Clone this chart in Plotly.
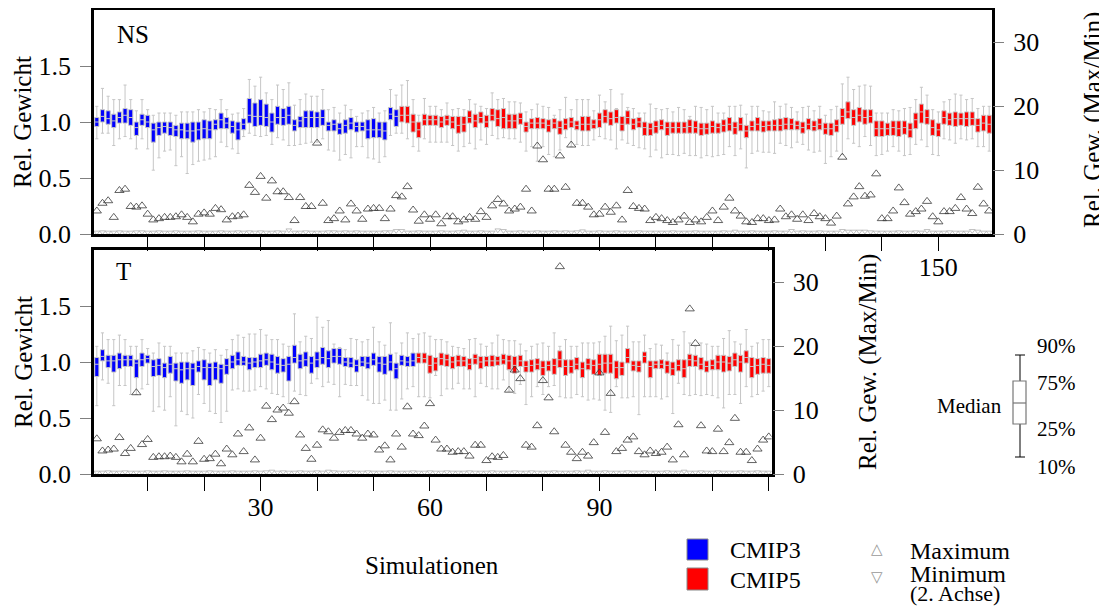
import plotly.graph_objects as go

# the page body adds an 8 px margin; reference pixel coords are shifted by it
OFF = 8
W, H = 1107 - OFF, 606 - OFF


def px(x):
    return (x - OFF) / W


def py(y):
    return 1 - (y - OFF) / H


# ---------------- data: panel NS (159 simulations) ----------------
ns_sim = list(range(1, 160))
ns_n_cmip3 = 54  # first 54 simulations are CMIP3, the rest CMIP5

ns_q3 = [1.04, 1.11, 1.10, 1.07, 1.09, 1.12, 1.11, 1.00, 1.07, 1.06,
         0.99, 1.00, 1.00, 1.00, 0.97, 0.99, 0.99, 1.00, 1.00, 1.02,
         1.01, 1.02, 1.08, 1.04, 1.01, 1.00, 1.03, 1.21, 1.17, 1.20,
         1.16, 1.08, 1.14, 1.12, 1.14, 1.02, 1.05, 1.10, 1.10, 1.09,
         1.11, 1.00, 1.02, 0.99, 1.02, 1.04, 1.00, 1.00, 1.02, 1.03,
         1.00, 1.00, 1.13, 1.11, 1.14, 1.14, 1.07, 1.00, 1.07, 1.06,
         1.06, 1.05, 1.06, 1.05, 1.05, 1.05, 1.10, 1.07, 1.09, 1.06,
         1.12, 1.11, 1.12, 1.07, 1.07, 1.08, 1.00, 1.03, 1.04, 1.03,
         1.02, 1.03, 1.01, 1.03, 1.04, 1.01, 1.05, 1.05, 1.02, 1.08,
         1.11, 1.09, 1.11, 1.05, 1.10, 1.03, 1.04, 1.00, 0.99, 1.01,
         1.02, 1.00, 1.00, 1.00, 1.00, 1.02, 1.01, 0.99, 0.99, 1.01,
         0.99, 1.02, 1.04, 1.00, 1.04, 0.97, 1.01, 1.04, 1.01, 1.01,
         1.02, 1.03, 1.04, 1.03, 1.01, 1.00, 1.03, 1.01, 1.03, 0.99,
         0.99, 1.02, 1.12, 1.18, 1.11, 1.13, 1.11, 1.11, 1.01, 1.01,
         0.99, 1.01, 1.01, 1.01, 0.99, 1.08, 1.16, 1.11, 1.02, 0.99,
         1.10, 1.08, 1.09, 1.08, 1.09, 1.09, 1.03, 1.06, 1.06]

ns_q1 = [0.96, 1.00, 0.98, 0.95, 0.99, 0.99, 0.97, 0.88, 0.97, 0.95,
         0.82, 0.88, 0.90, 0.88, 0.87, 0.85, 0.85, 0.82, 0.84, 0.85,
         0.85, 0.93, 0.94, 0.94, 0.90, 0.84, 0.93, 0.99, 0.96, 0.97,
         0.96, 0.91, 0.98, 0.97, 0.98, 0.92, 0.95, 0.95, 0.95, 0.95,
         0.97, 0.92, 0.92, 0.89, 0.90, 0.93, 0.91, 0.92, 0.85, 0.86,
         0.86, 0.84, 1.02, 0.96, 1.00, 0.99, 0.91, 0.86, 0.97, 0.97,
         0.97, 0.95, 0.97, 0.94, 0.90, 0.91, 0.99, 0.95, 0.99, 0.95,
         1.01, 0.96, 0.94, 0.94, 0.94, 0.98, 0.91, 0.94, 0.94, 0.94,
         0.91, 0.94, 0.89, 0.93, 0.95, 0.93, 0.92, 0.92, 0.94, 0.95,
         0.99, 0.97, 0.99, 0.92, 0.98, 0.93, 0.95, 0.88, 0.88, 0.90,
         0.93, 0.88, 0.90, 0.90, 0.90, 0.90, 0.90, 0.88, 0.89, 0.90,
         0.90, 0.91, 0.92, 0.89, 0.92, 0.86, 0.92, 0.92, 0.91, 0.92,
         0.92, 0.92, 0.93, 0.93, 0.93, 0.90, 0.93, 0.92, 0.93, 0.89,
         0.88, 0.91, 0.98, 1.03, 0.97, 1.00, 0.98, 0.99, 0.87, 0.87,
         0.88, 0.88, 0.87, 0.89, 0.86, 0.94, 0.99, 0.98, 0.88, 0.87,
         0.98, 0.97, 0.96, 0.97, 0.96, 0.97, 0.91, 0.92, 0.90]

ns_med = [1.00, 1.05, 1.03, 1.01, 1.04, 1.06, 1.04, 0.95, 1.02, 1.00,
          0.93, 0.95, 0.96, 0.95, 0.93, 0.93, 0.92, 0.92, 0.93, 0.94,
          0.93, 0.98, 1.02, 0.99, 0.96, 0.93, 0.98, 1.06, 1.05, 1.05,
          1.04, 1.00, 1.04, 1.04, 1.06, 0.97, 1.01, 1.04, 1.04, 1.04,
          1.04, 0.97, 0.98, 0.94, 0.97, 0.99, 0.96, 0.96, 0.93, 0.93,
          0.93, 0.92, 1.07, 1.05, 1.06, 1.06, 1.00, 0.93, 1.02, 1.02,
          1.02, 1.00, 1.02, 1.00, 0.97, 0.98, 1.04, 1.01, 1.04, 1.00,
          1.06, 1.03, 1.04, 1.01, 1.01, 1.03, 0.96, 0.99, 0.99, 0.99,
          0.97, 0.99, 0.95, 0.98, 1.00, 0.97, 0.98, 0.98, 0.98, 1.02,
          1.05, 1.03, 1.04, 0.98, 1.04, 0.98, 1.00, 0.95, 0.94, 0.96,
          0.97, 0.95, 0.95, 0.95, 0.95, 0.96, 0.95, 0.94, 0.94, 0.96,
          0.95, 0.97, 0.98, 0.95, 0.98, 0.92, 0.96, 0.98, 0.96, 0.97,
          0.97, 0.97, 0.98, 0.98, 0.97, 0.95, 0.98, 0.96, 0.98, 0.94,
          0.94, 0.97, 1.05, 1.09, 1.04, 1.06, 1.04, 1.05, 0.94, 0.94,
          0.94, 0.95, 0.94, 0.95, 0.93, 1.02, 1.09, 1.04, 0.95, 0.93,
          1.04, 1.02, 1.03, 1.03, 1.03, 1.03, 0.97, 0.99, 0.98]

ns_p90 = [1.14, 1.30, 1.23, 1.20, 1.20, 1.33, 1.20, 1.10, 1.20, 1.11,
          1.06, 1.08, 1.08, 1.08, 1.06, 1.09, 1.09, 1.09, 1.11, 1.09,
          1.12, 1.11, 1.20, 1.11, 1.07, 1.08, 1.12, 1.38, 1.32, 1.40,
          1.26, 1.20, 1.33, 1.29, 1.35, 1.15, 1.20, 1.25, 1.23, 1.23,
          1.29, 1.11, 1.13, 1.08, 1.15, 1.11, 1.05, 1.08, 1.10, 1.13,
          1.08, 1.10, 1.29, 1.24, 1.33, 1.37, 1.20, 1.06, 1.21, 1.14,
          1.14, 1.11, 1.17, 1.11, 1.12, 1.11, 1.20, 1.16, 1.14, 1.12,
          1.26, 1.20, 1.21, 1.18, 1.18, 1.17, 1.09, 1.11, 1.16, 1.14,
          1.13, 1.06, 1.11, 1.22, 1.11, 1.20, 1.20, 1.20, 1.10, 1.24,
          1.18, 1.29, 1.12, 1.25, 1.13, 1.12, 1.08, 1.08, 1.16, 1.12,
          1.11, 1.12, 1.09, 1.13, 1.11, 1.05, 1.14, 1.13, 1.11, 1.14,
          1.08, 1.08, 1.14, 1.14, 1.15, 1.07, 1.14, 1.14, 1.10, 1.09,
          1.18, 1.14, 1.16, 1.13, 1.09, 1.13, 1.14, 1.10, 1.14, 1.06,
          1.11, 1.14, 1.34, 1.40, 1.29, 1.32, 1.33, 1.32, 1.08, 1.08,
          1.08, 1.11, 1.10, 1.12, 1.13, 1.20, 1.31, 1.24, 1.11, 1.09,
          1.18, 1.20, 1.25, 1.24, 1.20, 1.21, 1.12, 1.14, 1.14]

ns_p10 = [0.85, 0.90, 0.90, 0.79, 0.85, 0.87, 0.85, 0.76, 0.85, 0.76,
          0.57, 0.68, 0.74, 0.75, 0.61, 0.69, 0.54, 0.62, 0.65, 0.66,
          0.67, 0.69, 0.82, 0.78, 0.76, 0.72, 0.87, 0.90, 0.88, 0.87,
          0.88, 0.80, 0.86, 0.84, 0.79, 0.79, 0.80, 0.81, 0.82, 0.82,
          0.85, 0.75, 0.74, 0.66, 0.71, 0.68, 0.78, 0.78, 0.68, 0.67,
          0.64, 0.69, 0.88, 0.90, 0.90, 0.85, 0.78, 0.74, 0.85, 0.82,
          0.82, 0.82, 0.82, 0.79, 0.74, 0.78, 0.81, 0.76, 0.84, 0.80,
          0.88, 0.85, 0.86, 0.85, 0.85, 0.82, 0.74, 0.78, 0.65, 0.78,
          0.71, 0.69, 0.75, 0.86, 0.78, 0.80, 0.79, 0.79, 0.84, 0.87,
          0.85, 0.84, 0.76, 0.84, 0.81, 0.79, 0.77, 0.76, 0.69, 0.75,
          0.68, 0.71, 0.71, 0.70, 0.72, 0.70, 0.70, 0.68, 0.70, 0.69,
          0.70, 0.71, 0.78, 0.70, 0.76, 0.59, 0.72, 0.74, 0.73, 0.73,
          0.72, 0.81, 0.79, 0.77, 0.82, 0.80, 0.75, 0.73, 0.74, 0.63,
          0.69, 0.74, 0.71, 0.85, 0.81, 0.78, 0.87, 0.79, 0.70, 0.71,
          0.74, 0.78, 0.74, 0.70, 0.71, 0.80, 0.84, 0.78, 0.71, 0.70,
          0.85, 0.84, 0.81, 0.85, 0.84, 0.85, 0.78, 0.78, 0.74]

ns_max = [3.6, 4.8, 5.2, 2.6, 6.8, 7.0, 4.3, 4.2, 4.4, 3.1,
          2.2, 2.4, 2.6, 2.6, 2.7, 3.0, 2.6, 1.9, 3.1, 3.3,
          3.1, 4.0, 3.8, 2.2, 2.7, 2.8, 3.0, 7.6, 6.5, 9.0,
          5.6, 8.3, 6.6, 6.6, 5.7, 2.1, 5.7, 4.3, 4.3, 14.2,
          4.8, 2.1, 2.4, 3.6, 2.2, 4.7, 3.6, 2.3, 3.9, 4.0,
          4.0, 2.4, 3.9, 6.0, 5.8, 7.4, 3.75, 2.0, 3.0, 2.3,
          3.0, 1.6, 2.7, 2.7, 1.9, 2.2, 2.6, 2.3, 3.5, 2.6,
          4.4, 5.4, 4.7, 3.6, 3.9, 4.2, 7.0, 3.6, 13.75, 11.6,
          7.0, 7.0, 12.2, 7.3, 13.9, 4.8, 4.8, 4.2, 3.0, 3.1,
          4.2, 3.4, 4.4, 2.2, 6.8, 4.3, 4.0, 3.9, 2.1, 2.6,
          2.4, 2.1, 1.8, 2.2, 2.8, 1.8, 2.2, 1.9, 2.6, 3.6,
          2.1, 4.2, 5.6, 3.6, 2.8, 1.9, 1.8, 2.4, 2.4, 2.1,
          2.2, 3.9, 2.7, 3.0, 2.3, 3.0, 2.1, 3.2, 2.7, 2.4,
          1.7, 2.8, 12.0, 4.7, 5.8, 7.4, 5.9, 6.1, 9.4, 2.4,
          2.4, 3.6, 7.2, 4.9, 3.1, 3.5, 3.9, 5.1, 2.7, 1.9,
          3.5, 3.5, 4.0, 5.7, 3.9, 3.2, 7.3, 4.7, 3.6]

ns_min = [0.25, 0.3, 0.25, 0.25, 0.3, 0.25, 0.25, 0.3, 0.3, 0.25,
          0.25, 0.3, 0.25, 0.25, 0.3, 0.25, 0.25, 0.25, 0.3, 0.25,
          0.25, 0.25, 0.3, 0.25, 0.25, 0.3, 0.25, 0.3, 0.25, 0.3,
          0.25, 0.25, 0.3, 0.25, 0.6, 0.25, 0.25, 0.3, 0.25, 0.25,
          0.25, 0.3, 0.3, 0.25, 0.3, 0.25, 0.3, 0.25, 0.25, 0.25,
          0.25, 0.3, 0.3, 0.5, 0.5, 0.25, 0.25, 0.3, 0.25, 0.25,
          0.25, 0.3, 0.25, 0.25, 0.3, 0.4, 0.25, 0.25, 0.3, 0.25,
          0.25, 0.6, 0.5, 0.25, 0.25, 0.3, 0.25, 0.25, 0.3, 0.25,
          0.25, 0.3, 0.25, 0.3, 0.25, 0.3, 0.45, 0.25, 0.25, 0.3,
          0.25, 0.25, 0.3, 0.25, 0.25, 0.25, 0.3, 0.25, 0.25, 0.25,
          0.25, 0.25, 0.3, 0.25, 0.25, 0.25, 0.3, 0.25, 0.25, 0.25,
          0.25, 0.3, 0.25, 0.4, 0.25, 0.25, 0.3, 0.25, 0.25, 0.25,
          0.3, 0.25, 0.25, 0.5, 0.25, 0.3, 0.25, 0.25, 0.3, 0.25,
          0.25, 0.25, 0.5, 0.4, 0.4, 0.4, 0.4, 0.3, 0.25, 0.25,
          0.25, 0.25, 0.3, 0.25, 0.25, 0.3, 0.25, 0.5, 0.25, 0.25,
          0.25, 0.3, 0.25, 0.25, 0.25, 0.5, 0.4, 0.25, 0.25]

# ---------------- data: panel T (120 simulations) ----------------
t_sim = list(range(1, 121))
t_n_cmip3 = 57

t_q3 = [1.04, 1.11, 1.06, 1.06, 1.08, 1.06, 1.06, 1.02, 1.08, 1.06,
        1.02, 1.03, 0.99, 1.05, 0.99, 1.00, 1.00, 0.99, 1.01, 1.02,
        0.99, 1.00, 0.98, 1.03, 1.06, 1.09, 1.05, 1.04, 1.04, 1.07,
        1.08, 1.07, 1.05, 1.03, 1.05, 1.15, 1.07, 1.09, 1.05, 1.09,
        1.13, 1.10, 1.12, 1.12, 1.04, 1.04, 1.02, 1.05, 1.05, 1.08,
        1.05, 1.05, 1.07, 0.99, 1.06, 1.05, 1.08, 1.08, 1.08, 1.06,
        1.04, 1.08, 1.07, 1.05, 1.06, 1.05, 1.03, 1.07, 1.05, 1.05,
        1.06, 1.05, 1.07, 1.06, 1.05, 1.06, 1.01, 1.02, 1.03, 1.01,
        1.01, 1.03, 1.10, 1.02, 1.02, 1.04, 1.00, 1.03, 1.02, 1.07,
        1.07, 1.07, 1.01, 1.00, 1.12, 1.01, 1.01, 1.09, 1.01, 1.01,
        1.02, 1.01, 1.00, 1.02, 1.02, 1.07, 1.06, 1.04, 1.01, 1.02,
        1.06, 1.06, 1.05, 1.08, 1.06, 1.10, 1.04, 1.03, 1.04, 1.03]

t_q1 = [0.87, 1.01, 0.95, 0.91, 0.94, 0.96, 0.96, 0.86, 0.96, 0.99,
        0.87, 0.88, 0.86, 0.90, 0.83, 0.81, 0.84, 0.79, 0.91, 0.84,
        0.79, 0.84, 0.81, 0.89, 0.94, 0.97, 0.97, 0.93, 0.95, 0.95,
        0.97, 0.93, 0.90, 0.91, 0.83, 0.99, 0.94, 0.96, 0.90, 0.95,
        0.98, 0.95, 0.99, 0.98, 0.96, 0.95, 0.91, 0.96, 0.94, 0.97,
        0.91, 0.89, 0.92, 0.85, 0.97, 0.96, 0.96, 0.99, 0.99, 0.90,
        0.92, 0.97, 0.96, 0.94, 0.96, 0.96, 0.93, 0.98, 0.94, 0.96,
        0.96, 0.97, 0.98, 0.93, 0.90, 0.96, 0.91, 0.91, 0.93, 0.88,
        0.92, 0.89, 0.95, 0.88, 0.90, 0.93, 0.86, 0.93, 0.89, 0.88,
        0.90, 0.90, 0.85, 0.88, 0.99, 0.92, 0.91, 0.99, 0.86, 0.94,
        0.94, 0.90, 0.88, 0.92, 0.86, 0.96, 0.96, 0.93, 0.91, 0.93,
        0.93, 0.91, 0.92, 0.96, 0.91, 0.99, 0.86, 0.89, 0.90, 0.90]

t_med = [0.98, 1.05, 1.01, 1.01, 1.02, 1.02, 1.02, 0.99, 1.02, 1.03,
         0.96, 0.97, 0.95, 0.98, 0.94, 0.93, 0.94, 0.94, 0.96, 0.95,
         0.95, 0.95, 0.94, 0.97, 1.00, 1.02, 1.00, 0.99, 1.00, 1.01,
         1.02, 1.00, 0.98, 0.97, 0.98, 1.04, 1.01, 1.02, 0.99, 1.02,
         1.04, 1.03, 1.05, 1.05, 1.00, 0.99, 0.97, 1.00, 0.99, 1.02,
         0.99, 0.98, 1.00, 0.94, 1.01, 1.00, 1.01, 1.04, 1.03, 0.97,
         0.99, 1.03, 1.02, 1.00, 1.01, 1.01, 0.98, 1.03, 1.00, 1.01,
         1.01, 1.01, 1.02, 1.01, 0.97, 1.01, 0.96, 0.97, 0.98, 0.95,
         0.97, 0.97, 1.02, 0.96, 0.96, 0.98, 0.94, 0.98, 0.97, 0.98,
         0.99, 0.99, 0.95, 0.95, 1.04, 0.97, 0.96, 1.05, 0.96, 0.98,
         0.98, 0.97, 0.94, 0.97, 0.94, 1.02, 1.01, 0.98, 0.96, 0.97,
         1.00, 1.00, 0.99, 1.02, 1.00, 1.04, 0.96, 0.97, 0.98, 0.97]

t_p90 = [1.14, 1.26, 1.20, 1.20, 1.24, 1.20, 1.14, 1.14, 1.20, 1.12,
         1.08, 1.17, 1.14, 1.14, 1.08, 1.08, 1.08, 1.10, 1.13, 1.11,
         1.08, 1.11, 1.06, 1.11, 1.20, 1.24, 1.22, 1.25, 1.25, 1.29,
         1.24, 1.20, 1.20, 1.16, 1.14, 1.43, 1.18, 1.23, 1.21, 1.40,
         1.31, 1.37, 1.16, 1.13, 1.11, 1.21, 1.20, 1.18, 1.20, 1.31,
         1.18, 1.15, 1.35, 1.08, 1.17, 1.26, 1.21, 1.25, 1.26, 1.23,
         1.20, 1.20, 1.18, 1.14, 1.13, 1.12, 1.20, 1.21, 1.16, 1.14,
         1.17, 1.24, 1.20, 1.19, 1.19, 1.16, 1.10, 1.14, 1.16, 1.17,
         1.14, 1.26, 1.14, 1.20, 1.14, 1.14, 1.17, 1.17, 1.17, 1.18,
         1.23, 1.32, 1.19, 1.24, 1.32, 1.18, 1.18, 1.24, 1.12, 1.16,
         1.15, 1.08, 1.20, 1.15, 1.27, 1.17, 1.14, 1.17, 1.16, 1.14,
         1.14, 1.21, 1.28, 1.18, 1.16, 1.29, 1.14, 1.17, 1.20, 1.20]

t_p10 = [0.61, 0.84, 0.81, 0.61, 0.79, 0.79, 0.71, 0.71, 0.76, 0.80,
         0.56, 0.60, 0.57, 0.69, 0.43, 0.56, 0.53, 0.50, 0.71, 0.63,
         0.56, 0.54, 0.46, 0.56, 0.75, 0.76, 0.74, 0.74, 0.75, 0.78,
         0.76, 0.72, 0.71, 0.69, 0.63, 0.74, 0.71, 0.70, 0.81, 0.85,
         0.78, 0.82, 0.80, 0.69, 0.80, 0.79, 0.79, 0.70, 0.66, 0.63,
         0.63, 0.66, 0.57, 0.57, 0.67, 0.76, 0.78, 0.69, 0.69, 0.68,
         0.88, 0.70, 0.76, 0.76, 0.81, 0.76, 0.76, 0.69, 0.81, 0.78,
         0.76, 0.76, 0.84, 0.74, 0.72, 0.80, 0.62, 0.69, 0.78, 0.71,
         0.78, 0.79, 0.69, 0.68, 0.68, 0.71, 0.69, 0.66, 0.67, 0.66,
         0.57, 0.55, 0.78, 0.68, 0.68, 0.69, 0.53, 0.69, 0.69, 0.69,
         0.67, 0.69, 0.54, 0.81, 0.71, 0.70, 0.71, 0.70, 0.71, 0.70,
         0.68, 0.59, 0.71, 0.71, 0.63, 0.78, 0.69, 0.71, 0.74, 0.78]

t_max = [5.5, 3.6, 3.75, 3.9, 5.7, 3.2, 4.0, 12.7, 4.6, 5.4,
         2.6, 2.7, 2.7, 2.8, 2.6, 1.9, 3.1, 1.9, 5.1, 2.3,
         2.4, 3.1, 1.6, 3.9, 3.0, 6.25, 3.5, 7.2, 2.2, 5.6,
         10.6, 8.5, 10.0, 10.3, 9.5, 11.3, 6.1, 4.0, 2.3, 4.5,
         6.9, 6.6, 5.6, 6.5, 6.8, 6.8, 6.25, 5.6, 6.25, 6.1,
         3.75, 4.4, 2.2, 6.25, 4.2, 10.5, 6.25, 6.0, 7.5, 11.0,
         5.3, 3.9, 3.9, 3.4, 3.5, 3.5, 2.8, 4.5, 4.5, 2.1,
         2.7, 2.6, 2.9, 13.1, 16.25, 14.9, 4.5, 4.2, 7.55, 14.6,
         11.9, 6.6, 32.4, 4.5, 3.4, 2.4, 3.4, 2.8, 4.9, 15.8,
         6.5, 12.6, 3.5, 4.0, 5.3, 5.8, 3.5, 3.0, 3.6, 3.2,
         3.4, 4.2, 2.2, 7.7, 3.0, 25.8, 20.4, 7.55, 3.6, 3.5,
         7.0, 3.5, 4.9, 8.7, 3.4, 3.4, 2.1, 3.9, 5.3, 5.8]

t_min = [0.25, 0.25, 0.3, 0.25, 0.25, 0.3, 0.25, 0.25, 0.25, 0.3,
         0.25, 0.25, 0.3, 0.25, 0.25, 0.25, 0.3, 0.25, 0.25, 0.25,
         0.3, 0.25, 0.25, 0.25, 0.3, 0.25, 0.25, 0.25, 0.3, 0.25,
         0.3, 0.4, 0.25, 0.3, 0.25, 0.25, 0.3, 0.25, 0.25, 0.3,
         0.25, 0.4, 0.3, 0.25, 0.25, 0.3, 0.25, 0.25, 0.3, 0.25,
         0.25, 0.25, 0.3, 0.25, 0.25, 0.25, 0.3, 0.25, 0.25, 0.3,
         0.25, 0.25, 0.3, 0.25, 0.25, 0.25, 0.3, 0.25, 0.25, 0.25,
         0.3, 0.25, 0.25, 0.25, 0.3, 0.25, 0.25, 0.3, 0.25, 0.25,
         0.25, 0.3, 0.25, 0.25, 0.25, 0.3, 0.25, 0.4, 0.25, 0.25,
         0.3, 0.25, 0.25, 0.25, 0.3, 0.25, 0.25, 0.3, 0.25, 0.25,
         0.25, 0.3, 0.25, 0.25, 0.4, 0.25, 0.25, 0.3, 0.25, 0.25,
         0.3, 0.25, 0.25, 0.25, 0.3, 0.25, 0.25, 0.3, 0.25, 0.25]

# ---------------- style ----------------
SERIF = "Liberation Serif"
BLUE = "#0000ff"
RED = "#ff0000"
BOXLINE = "#c6c6c6"

fig = go.Figure()


def add_panel(sim, q1, med, q3, lo, hi, mx, mn, n3, xa, ya, ya2):
    groups = [(slice(0, n3), BLUE, "CMIP3"), (slice(n3, None), RED, "CMIP5")]
    for sl, col, name in groups:
        fig.add_trace(go.Box(
            x=sim[sl], q1=q1[sl], median=med[sl], q3=q3[sl],
            lowerfence=lo[sl], upperfence=hi[sl],
            fillcolor=col, line=dict(color=BOXLINE, width=1),
            width=0.74, whiskerwidth=0.75, boxpoints=False,
            name=name, showlegend=False, hoverinfo="skip",
            xaxis=xa, yaxis=ya))
    fig.add_trace(go.Scatter(
        x=sim, y=mn, mode="markers", showlegend=False, hoverinfo="skip",
        marker=dict(symbol="triangle-down-open", size=5, color="#b0b0b0",
                    line=dict(width=0.8)),
        xaxis=xa, yaxis=ya2))
    fig.add_trace(go.Scatter(
        x=sim, y=mx, mode="markers", showlegend=False, hoverinfo="skip",
        marker=dict(symbol="triangle-up-open", size=8, color="#3a3a3a",
                    line=dict(width=0.8)),
        xaxis=xa, yaxis=ya2))


add_panel(ns_sim, ns_q1, ns_med, ns_q3, ns_p10, ns_p90, ns_max, ns_min,
          ns_n_cmip3, "x", "y", "y3")
add_panel(t_sim, t_q1, t_med, t_q3, t_p10, t_p90, t_max, t_min,
          t_n_cmip3, "x2", "y2", "y4")

tickfont = dict(family=SERIF, size=26, color="black")

x_common = dict(ticks="outside", ticklen=14, tickwidth=1.3, tickcolor="black",
                showline=True, mirror=True, linewidth=2.5, linecolor="black",
                showgrid=False, zeroline=False, tickfont=tickfont,
                ticklabelstandoff=-6, automargin=False)
y_common = dict(range=[0, 2], tickvals=[0, 0.5, 1.0, 1.5],
                ticktext=["0.0", "0.5", "1.0", "1.5"],
                ticks="outside", ticklen=11, tickwidth=1.3, tickcolor="#808080",
                showline=True, mirror=True, linewidth=2.5, linecolor="black",
                showgrid=False, zeroline=False, tickfont=tickfont,
                ticklabelstandoff=4, automargin=False)
y2_common = dict(side="right", range=[0, 35], tickvals=[0, 10, 20, 30],
                 ticks="outside", ticklen=11, tickwidth=1.3, tickcolor="#808080",
                 showline=False, showgrid=False, zeroline=False,
                 tickfont=tickfont, ticklabelstandoff=4, automargin=False)

ns_ticks = list(range(10, 160, 10))
t_ticks = list(range(10, 130, 10))

fig.update_layout(
    width=W, height=H,
    margin=dict(l=0, r=0, t=0, b=0),
    paper_bgcolor="white", plot_bgcolor="white",
    boxmode="overlay",
    showlegend=False,
    xaxis=dict(domain=[px(94), px(992)], range=[0.5, 159.5], anchor="y",
               tickvals=ns_ticks,
               ticktext=[str(v) if v == 150 else "" for v in ns_ticks],
               **x_common),
    xaxis2=dict(domain=[px(94), px(771.6)], range=[0.5, 120.5], anchor="y2",
                tickvals=t_ticks,
                ticktext=[str(v) if v in (30, 60, 90) else "" for v in t_ticks],
                **x_common),
    yaxis=dict(domain=[py(234), py(10)], anchor="x", **y_common),
    yaxis2=dict(domain=[py(474), py(250)], anchor="x2", **y_common),
    yaxis3=dict(overlaying="y", anchor="x", **y2_common),
    yaxis4=dict(overlaying="y2", anchor="x2", **y2_common),
)

ann = []


def text(x, y, s, size=25, xanchor="center", yanchor="middle", angle=0,
         color="black", family=SERIF):
    ann.append(dict(x=px(x), y=py(y), xref="paper", yref="paper", text=s,
                    showarrow=False, xanchor=xanchor, yanchor=yanchor,
                    textangle=angle, font=dict(family=family, size=size,
                                               color=color)))


text(115, 35, "NS", size=25, xanchor="left")
text(114, 272, "T", size=25, xanchor="left")
text(23, 122, "Rel. Gewicht", angle=-90)
text(23, 362, "Rel. Gewicht", angle=-90)
text(1093, 120, "Rel. Gew. (Max/Min)", angle=-90)
text(868, 362, "Rel. Gew. (Max/Min)", angle=-90)
text(432, 565, "Simulationen")

# legend
text(728, 550, "CMIP3", size=24, xanchor="left")
text(728, 580, "CMIP5", size=24, xanchor="left")
text(877, 549, "△", size=15, color="#999999", family="DejaVu Sans")
text(877, 577, "▽", size=15, color="#999999", family="DejaVu Sans")
text(908, 551, "Maximum", size=24, xanchor="left")
text(908, 574, "Minimum", size=24, xanchor="left")
text(908, 593, "(2. Achse)", size=22, xanchor="left")

# box explanation
text(1035, 346, "90%", size=21, xanchor="left")
text(1035, 383, "75%", size=21, xanchor="left")
text(1035, 429, "25%", size=21, xanchor="left")
text(1035, 467, "10%", size=21, xanchor="left")
text(1004, 406, "Median", size=21, xanchor="right")

shapes = []


def rect(x0, y0, x1, y1, fill, line="#888888", lw=1):
    shapes.append(dict(type="rect", xref="paper", yref="paper",
                       x0=px(x0), x1=px(x1), y0=py(y1), y1=py(y0),
                       fillcolor=fill, line=dict(color=line, width=lw)))


def seg(x0, y0, x1, y1, color="black", lw=1):
    shapes.append(dict(type="line", xref="paper", yref="paper",
                       x0=px(x0), x1=px(x1), y0=py(y0), y1=py(y1),
                       line=dict(color=color, width=lw)))


rect(687, 539, 708, 560, BLUE)
rect(687, 568, 708, 590, RED)

seg(1020, 355, 1020, 381)
seg(1020, 424, 1020, 457)
seg(1015, 355, 1025, 355)
seg(1015, 457, 1025, 457)
rect(1013, 381, 1026, 424, "white", line="#777777", lw=1.2)
seg(1013, 403, 1026, 403, color="#777777", lw=1.2)

fig.update_layout(annotations=ann, shapes=shapes)

fig.write_html("out.html")
